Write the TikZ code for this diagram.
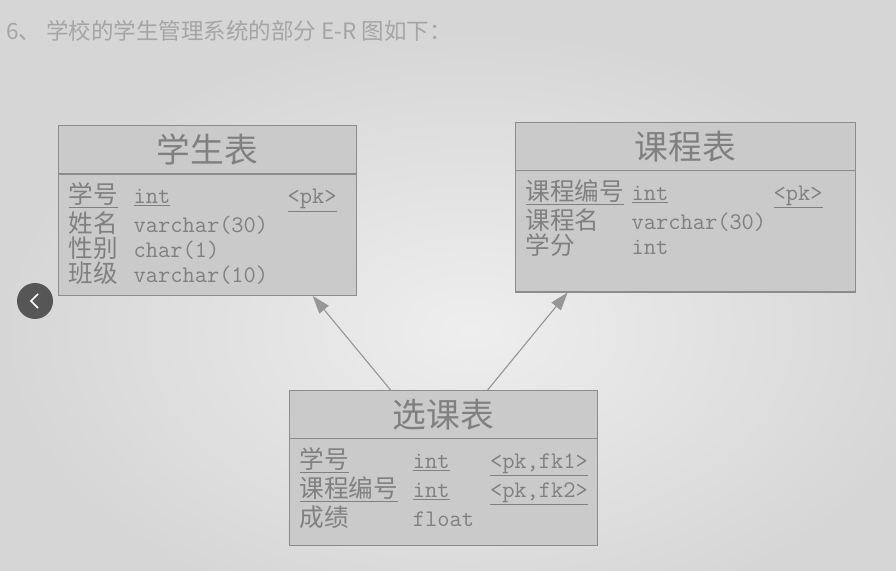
\documentclass[tikz,border=0pt]{standalone}
\usepackage{fontspec}
\setmainfont{Noto Sans CJK SC}
\usetikzlibrary{positioning, shapes.multipart, arrows.meta}

\definecolor{paper}{RGB}{214,214,214}
\definecolor{paperlight}{RGB}{238,238,238}
\definecolor{boxfill}{RGB}{202,202,202}
\definecolor{frame}{RGB}{140,140,140}
\definecolor{ink}{RGB}{128,128,128}
\definecolor{linkgray}{RGB}{150,150,150}
\definecolor{captiongray}{RGB}{165,165,165}

\newcommand{\fieldfont}{\fontsize{17.5pt}{0pt}\selectfont\lineskip=0pt\lineskiplimit=0pt}
\newcommand{\tabletitle}[1]{\centering{\fontsize{24pt}{0pt}\selectfont #1}\par}
% fila: ancho nombre, ancho tipo, nombre, tipo, clave
\newcommand{\erow}[5]{\rule[-0.1cm]{0pt}{0.625cm}\makebox[#1][l]{#3}\makebox[#2][l]{\fontsize{16.9pt}{0pt}\ttfamily #4}{\fontsize{16.9pt}{0pt}\ttfamily #5}\par}

\begin{document}
\begin{tikzpicture}[
    x=0.025cm, y=-0.025cm,
    table/.style={
        rectangle split, rectangle split parts=2,
        draw=frame, fill=boxfill, line width=0.8pt,
        rectangle split part align={center, left},
        inner xsep=0.25cm, inner ysep=0.2cm,
        anchor=north west, text=ink,
        font=\fieldfont
    },
    link/.style={draw=linkgray, line width=0.8pt,
        -{Triangle[length=0.45cm, width=0.3cm]}},
    caption/.style={anchor=west, inner sep=0pt, text=captiongray,
        font=\fontsize{16pt}{0pt}\selectfont}
]
\useasboundingbox (0,0) rectangle (896,571);

% --- Fondo ---
\fill[paper] (0,0) rectangle (896,571);
\shade[inner color=paperlight, outer color=paper] (470,330) ellipse [x radius=470, y radius=300];

% --- Enunciado ---
\node[caption] (caption) at (6,31) {6、 学校的学生管理系统的部分 E-R 图如下：};

% --- 学生表 ---
\node[table, text width=6.95cm] (Student) at (58,125) {
    \nodepart{one}\tabletitle{学生表}
    \nodepart{two}
    \erow{1.625cm}{3.85cm}{\underline{学号}}{\underline{int}}{\underline{<pk>}}
    \erow{1.625cm}{3.85cm}{姓名}{varchar(30)}{}
    \erow{1.625cm}{3.85cm}{性别}{char(1)}{}
    \erow{1.625cm}{3.85cm}{班级}{varchar(10)}{}
};

% --- 课程表 ---
\node[table, text width=8cm] (Course) at (515,122) {
    \nodepart{one}\tabletitle{课程表}
    \nodepart{two}
    \erow{2.65cm}{3.55cm}{\underline{课程编号}}{\underline{int}}{\underline{<pk>}}
    \erow{2.65cm}{3.55cm}{课程名}{varchar(30)}{}
    \erow{2.65cm}{3.55cm}{学分}{int}{}
    \rule{0pt}{0.625cm}\par
};

% --- 选课表 ---
\node[table, text width=7.2cm] (Enroll) at (289,390) {
    \nodepart{one}\tabletitle{选课表}
    \nodepart{two}
    \erow{2.83cm}{1.93cm}{\underline{学号}}{\underline{int}}{\underline{<pk,fk1>}}
    \erow{2.83cm}{1.93cm}{\underline{课程编号}}{\underline{int}}{\underline{<pk,fk2>}}
    \erow{2.83cm}{1.93cm}{成绩}{float}{}
    \rule{0pt}{0.15cm}\par
};

% --- Referencias 选课表 -> 学生表 / 课程表 ---
\draw[link] ([xshift=-1.325cm]Enroll.north) -- ([xshift=2.625cm]Student.south);
\draw[link] ([xshift=1.1cm]Enroll.north) -- ([xshift=-2.95cm]Course.south);

% --- Botón del visor ---
\fill[black!75, opacity=0.85] (35,301) circle [radius=18];
\draw[white, line width=1.2pt] (38,294) -- (31,301) -- (38,308);

\end{tikzpicture}
\end{document}
